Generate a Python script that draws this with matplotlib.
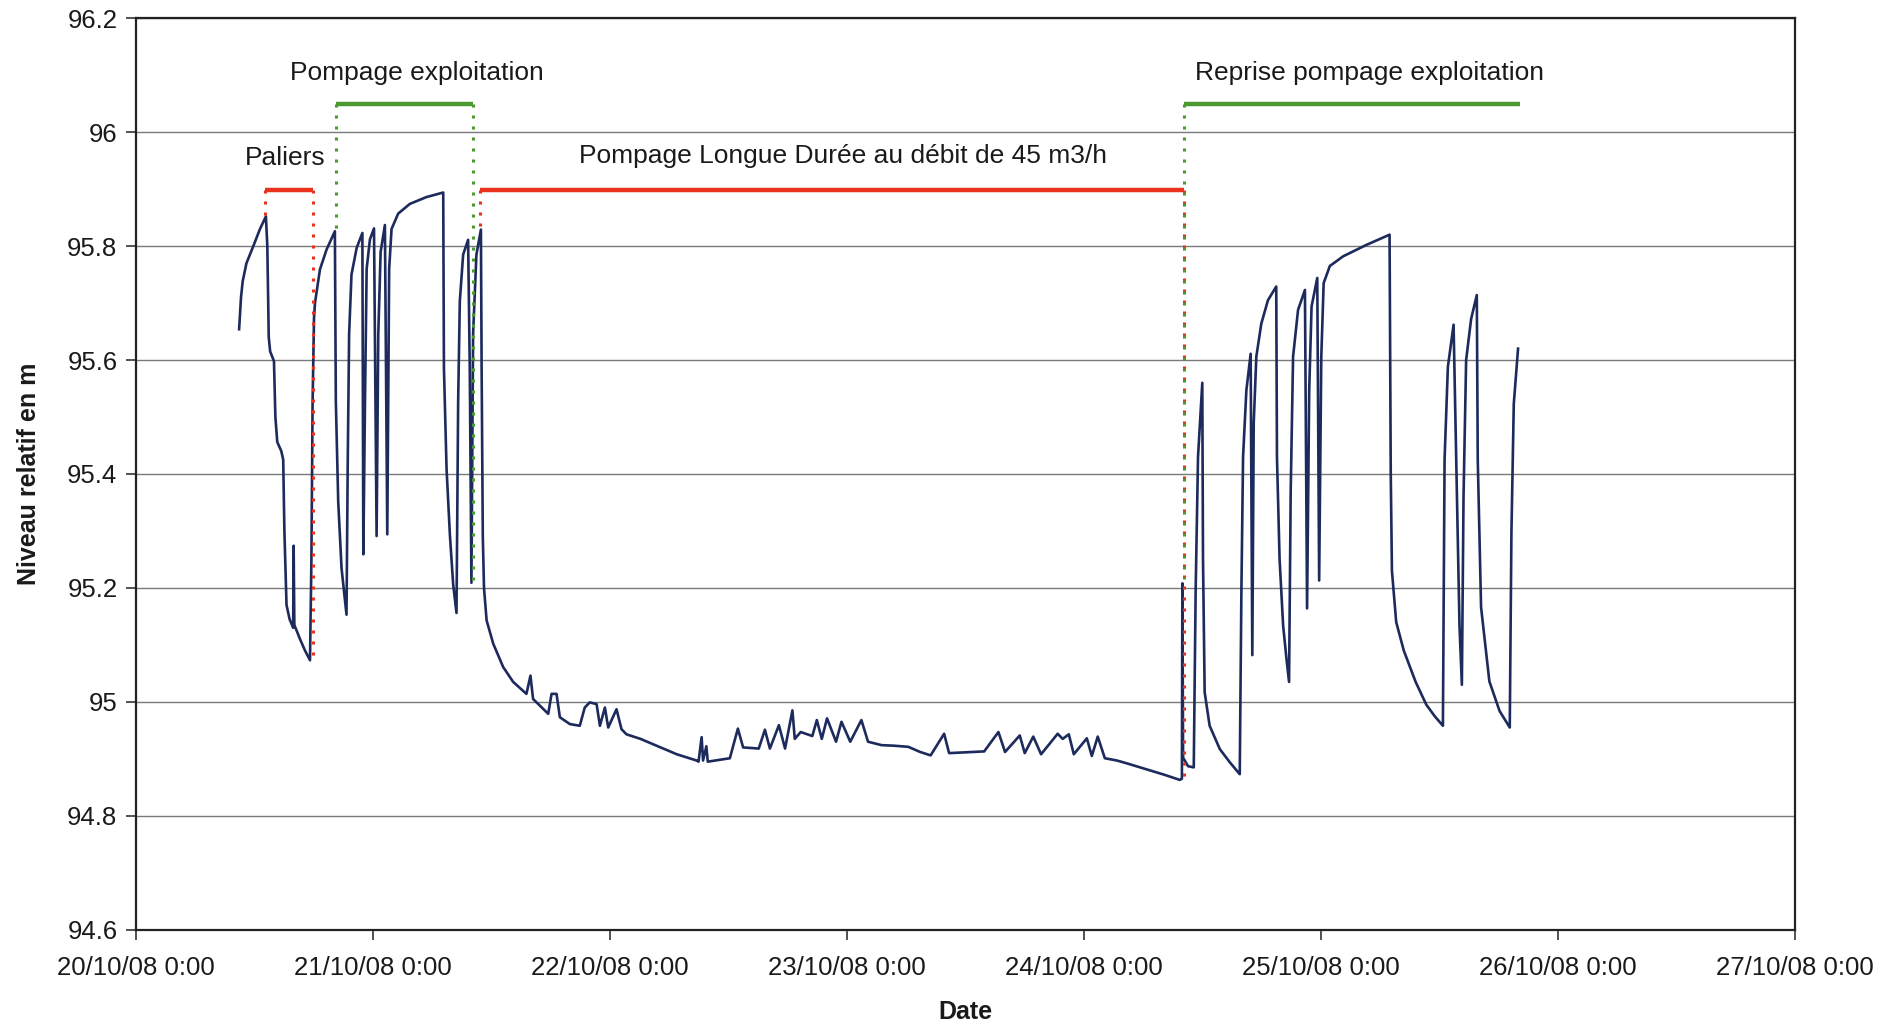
from datetime import datetime, timedelta
import numpy as np
import matplotlib
matplotlib.use("Agg")
import matplotlib.pyplot as plt
import matplotlib.dates as mdates

plt.rcParams['font.family'] = ['Liberation Sans', 'DejaVu Sans']

T0 = datetime(2008, 10, 20)

# temps en jours depuis le 20/10/08 0:00
days = [
    # paliers
    0.437, 0.445, 0.452, 0.468, 0.497, 0.525, 0.550, 0.556, 0.562, 0.568,
    0.584, 0.590, 0.598, 0.615, 0.623, 0.628, 0.637, 0.650, 0.665, 0.667,
    0.670, 0.693, 0.715, 0.736, 0.742, 0.747, 0.753, 0.757, 0.778, 0.806,
    0.841,
    # pompage exploitation
    0.845, 0.855, 0.869, 0.890, 0.895, 0.901, 0.911, 0.933, 0.957, 0.961,
    0.968, 0.975, 0.989, 1.006, 1.017, 1.024, 1.034, 1.052, 1.062, 1.070,
    1.080, 1.108, 1.157, 1.227, 1.298, 1.301, 1.312, 1.326, 1.340, 1.354,
    1.361, 1.368, 1.382, 1.403, 1.410, 1.417, 1.424, 1.438, 1.457,
    # pompage longue durée
    1.460, 1.465, 1.470, 1.481, 1.509, 1.551, 1.593, 1.649, 1.666, 1.677,
    1.741, 1.755, 1.776, 1.790, 1.832, 1.874, 1.895, 1.916, 1.945, 1.959,
    1.980, 1.994, 2.029, 2.050, 2.071, 2.130, 2.198, 2.283, 2.367, 2.375,
    2.388, 2.394, 2.408, 2.414, 2.460, 2.507, 2.541, 2.563, 2.629, 2.655,
    2.676, 2.714, 2.740, 2.771, 2.781, 2.806, 2.855, 2.874, 2.895, 2.917,
    2.955, 2.978, 3.015, 3.062, 3.090, 3.147, 3.200, 3.260, 3.310, 3.354,
    3.411, 3.432, 3.480, 3.523, 3.580, 3.640, 3.668, 3.730, 3.751, 3.787,
    3.820, 3.890, 3.911, 3.937, 3.958, 4.013, 4.034, 4.059, 4.089, 4.140,
    4.182, 4.230, 4.277, 4.340, 4.405, 4.414,
    # reprise pompage exploitation
    4.416, 4.419, 4.440, 4.464, 4.472, 4.482, 4.500, 4.503, 4.510, 4.531,
    4.574, 4.616, 4.658, 4.665, 4.672, 4.686, 4.704, 4.711, 4.717, 4.728,
    4.749, 4.777, 4.812, 4.815, 4.826, 4.841, 4.855, 4.866, 4.873, 4.883,
    4.904, 4.933, 4.942, 4.951, 4.961, 4.985, 4.993, 5.002, 5.012, 5.038,
    5.094, 5.192, 5.290, 5.295, 5.300, 5.318, 5.350, 5.400, 5.445, 5.480,
    5.515, 5.522, 5.536, 5.560, 5.568, 5.585, 5.595, 5.602, 5.613, 5.634,
    5.658, 5.662, 5.676, 5.711, 5.754, 5.797, 5.804, 5.814, 5.832,
]
niveau = [
    95.654, 95.710, 95.738, 95.770, 95.800, 95.830, 95.852, 95.800, 95.640, 95.615,
    95.598, 95.500, 95.456, 95.440, 95.425, 95.300, 95.170, 95.145, 95.130, 95.274,
    95.135, 95.111, 95.090, 95.073, 95.250, 95.528, 95.674, 95.700, 95.759, 95.794,
    95.826,
    95.528, 95.352, 95.235, 95.153, 95.410, 95.645, 95.750, 95.797, 95.823, 95.259,
    95.528, 95.760, 95.812, 95.831, 95.291, 95.645, 95.790, 95.837, 95.294, 95.760,
    95.830, 95.857, 95.874, 95.886, 95.894, 95.586, 95.410, 95.294, 95.206, 95.156,
    95.528, 95.703, 95.785, 95.811, 95.586, 95.209, 95.645, 95.785, 95.829,
    95.586, 95.290, 95.200, 95.143, 95.102, 95.061, 95.035, 95.014, 95.046, 95.005,
    94.979, 95.014, 95.014, 94.973, 94.961, 94.958, 94.990, 94.999, 94.996, 94.958,
    94.990, 94.955, 94.987, 94.952, 94.943, 94.935, 94.923, 94.908, 94.897, 94.895,
    94.938, 94.897, 94.922, 94.895, 94.898, 94.901, 94.953, 94.920, 94.918, 94.951,
    94.918, 94.959, 94.918, 94.985, 94.935, 94.947, 94.940, 94.968, 94.935, 94.971,
    94.930, 94.965, 94.930, 94.968, 94.930, 94.924, 94.923, 94.921, 94.912, 94.906,
    94.944, 94.910, 94.911, 94.912, 94.913, 94.947, 94.912, 94.941, 94.910, 94.939,
    94.908, 94.944, 94.935, 94.943, 94.908, 94.936, 94.905, 94.939, 94.901, 94.897,
    94.892, 94.886, 94.880, 94.872, 94.863, 94.865,
    95.208, 94.902, 94.887, 94.885, 95.195, 95.430, 95.560, 95.251, 95.017, 94.958,
    94.917, 94.894, 94.873, 95.195, 95.430, 95.547, 95.611, 95.082, 95.490, 95.606,
    95.664, 95.705, 95.729, 95.430, 95.251, 95.134, 95.076, 95.035, 95.371, 95.606,
    95.688, 95.723, 95.164, 95.547, 95.694, 95.744, 95.213, 95.606, 95.735, 95.765,
    95.782, 95.802, 95.820, 95.400, 95.230, 95.140, 95.090, 95.035, 94.995, 94.975,
    94.958, 95.425, 95.588, 95.662, 95.490, 95.133, 95.030, 95.360, 95.600, 95.672,
    95.714, 95.425, 95.166, 95.036, 94.984, 94.955, 95.295, 95.523, 95.620,
]

# phases : libellé, début / fin (jours), niveau du trait, position du texte, couleur
phase_labels = ["Paliers", "Pompage exploitation",
                "Pompage Longue Durée au débit de 45 m3/h", "Reprise pompage exploitation"]
phase_start = [0.545, 0.845, 1.453, 4.421]
phase_end = [0.748, 1.424, 4.421, 5.840]
phase_level = [95.898, 96.050, 95.898, 96.050]
phase_text_x = [0.630, 1.187, 2.986, 5.206]
phase_text_y = [95.955, 96.103, 95.958, 96.103]
phase_color = ["#e8321e", "#4b9a30", "#e8321e", "#4b9a30"]
# bas des pointillés verticaux au début / à la fin de chaque phase
drop_start = [95.850, 95.824, 95.830, 95.215]
drop_end = [95.070, 95.200, 94.863, None]

to_dt = lambda d: T0 + timedelta(days=d)

fig = plt.figure(figsize=(18.98, 10.28), dpi=100)
ax = fig.add_axes([0.0714, 0.0956, 0.8743, 0.8867])

ax.plot([to_dt(d) for d in days], niveau, color="#1d2a5c", lw=1.9, zorder=3)

dots = (0, (1, 2.6))
for i, lab in enumerate(phase_labels):
    c = phase_color[i]
    x0, x1, lv = to_dt(phase_start[i]), to_dt(phase_end[i]), phase_level[i]
    ax.plot([x0, x1], [lv, lv], color=c, lw=3.2, solid_capstyle="butt", zorder=4)
    ax.plot([x0, x0], [lv, drop_start[i]], color=c, lw=2.2, linestyle=dots, zorder=4)
    if drop_end[i] is not None:
        ax.plot([x1, x1], [lv, drop_end[i]], color=c, lw=2.2, linestyle=dots, zorder=3.5)
    fam = ['Liberation Sans Narrow', 'Liberation Sans'] if i == 2 else ['Liberation Sans']
    ax.text(to_dt(phase_text_x[i]), phase_text_y[i], lab, ha="center", va="center",
            fontsize=19, family=fam, color="#1a1a1a", zorder=5)

ax.set_xlim(T0, T0 + timedelta(days=7))
ax.set_ylim(94.6, 96.2)
ax.set_yticks(np.arange(94.6, 96.21, 0.2))
ax.set_yticklabels(["94.6", "94.8", "95", "95.2", "95.4", "95.6", "95.8", "96", "96.2"])
ax.xaxis.set_major_locator(mdates.DayLocator())
ax.xaxis.set_major_formatter(mdates.DateFormatter("%d/%m/%y 0:00"))
ax.yaxis.grid(True, color="#7a7a7a", lw=1.0)
ax.set_axisbelow(True)
for s in ax.spines.values():
    s.set_linewidth(1.6)
    s.set_color("#222222")
ax.tick_params(axis="both", labelsize=18.5, length=7, width=1.2, color="#333333",
               labelcolor="#1a1a1a")
ax.tick_params(axis="x", pad=12)
ax.tick_params(axis="y", pad=6)

ax.set_ylabel("Niveau relatif en m", fontsize=18, fontweight="bold", color="#1a1a1a")
ax.yaxis.set_label_coords(-0.057, 0.5)
ax.set_xlabel("Date", fontsize=18, fontweight="bold", color="#1a1a1a")
ax.xaxis.set_label_coords(0.5, -0.077)

fig.savefig("out.png", dpi=100, facecolor="white")
